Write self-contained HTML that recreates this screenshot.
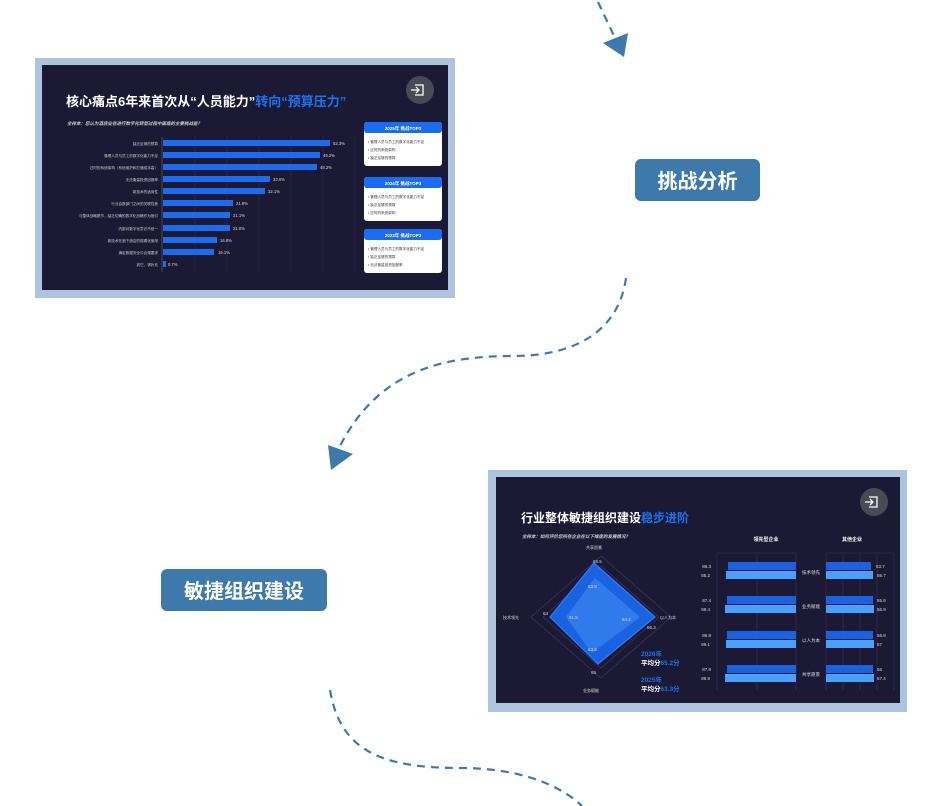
<!DOCTYPE html>
<html><head><meta charset="utf-8"><style>
html,body{margin:0;padding:0;background:#fff;width:940px;height:806px;overflow:hidden}
svg{display:block}
text{font-family:"Liberation Sans","Noto Sans CJK SC",sans-serif}
</style></head><body>
<svg width="940" height="806" viewBox="0 0 940 806" xmlns="http://www.w3.org/2000/svg">
<g fill="none" stroke="#3d7aab" stroke-width="2.2" stroke-dasharray="8,6">
<path d="M598,2 L616,40"/>
<path d="M626,278 C618,335 570,356 513,356 C440,356 378,372 340,446"/>
<path d="M330,690 C340,750 380,768 460,768 C520,768 560,785 582,806"/>
</g>
<polygon points="603,43 628,33 624,57" fill="#3d7aab"/>
<polygon points="328,445 353,454 331,470" fill="#3d7aab"/>

<rect x="635" y="159" width="125" height="42" rx="6" fill="#3d7aab"/>
<text x="697.5" y="188" fill="#fff" font-size="20" font-weight="bold" text-anchor="middle">挑战分析</text>
<rect x="161" y="569" width="166" height="42" rx="6" fill="#3d7aab"/>
<text x="244" y="598" fill="#fff" font-size="20" font-weight="bold" text-anchor="middle">敏捷组织建设</text>

<!-- Image 1 -->
<rect x="35" y="58" width="420" height="240" fill="#adc3de"/>
<rect x="42" y="65" width="406" height="225" fill="#1c1935"/>
<text x="66" y="106" fill="#fff" font-size="13" font-weight="bold">核心痛点6年来首次从“人员能力”<tspan fill="#1a74f0">转向“预算压力”</tspan></text>
<text x="67" y="125" fill="#ccc" font-size="4.5" font-style="italic" font-weight="bold">全样本：您认为酒店业在进行数字化转型过程中面临的主要挑战是？</text>
<circle cx="420" cy="90" r="14" fill="#4a4a55"/>
<path d="M415,85 h8 v10 h-8 M411,90 h7 M416,87 l3,3 -3,3" stroke="#fff" stroke-width="1.3" fill="none"/>
<g stroke="#2d2a48" stroke-width="0.6">
<line x1="195" y1="137" x2="195" y2="272"/><line x1="227" y1="137" x2="227" y2="272"/><line x1="259" y1="137" x2="259" y2="272"/><line x1="291" y1="137" x2="291" y2="272"/><line x1="323" y1="137" x2="323" y2="272"/><line x1="355" y1="137" x2="355" y2="272"/>
</g>
<line x1="162" y1="137" x2="162" y2="272" stroke="#666" stroke-width="0.6"/>
<g fill="#1a6cf0">
<rect x="163" y="140" width="167" height="6"/>
<rect x="163" y="152" width="157" height="6"/>
<rect x="163" y="164" width="154" height="6"/>
<rect x="163" y="176" width="107" height="6"/>
<rect x="163" y="188" width="102" height="6"/>
<rect x="163" y="200" width="70" height="6"/>
<rect x="163" y="212" width="67" height="6"/>
<rect x="163" y="225" width="67" height="6"/>
<rect x="163" y="237" width="54" height="6"/>
<rect x="163" y="249" width="51" height="6"/>
<rect x="163" y="261" width="3" height="6"/>
</g>
<g fill="#ddd" font-size="4.2">
<text x="333" y="145">52.3%</text><text x="323" y="157">49.2%</text><text x="320" y="169">48.2%</text><text x="273" y="181">33.6%</text><text x="268" y="193">32.1%</text><text x="236" y="205">21.8%</text><text x="233" y="217">21.1%</text><text x="233" y="230">21.0%</text><text x="220" y="242">16.8%</text><text x="218" y="254">16.1%</text><text x="168" y="266">0.7%</text>
</g>
<g fill="#ccc" font-size="3.6" text-anchor="end">
<text x="158" y="145">缺乏足够的预算</text><text x="158" y="157">管理人员与员工的数字化能力不足</text><text x="158" y="169">过时的系统架构（系统维护和打通成本高）</text><text x="158" y="181">无法衡量投资回报率</text><text x="158" y="193">新技术的适用性</text><text x="158" y="205">行业会数部门之间的关联性差</text><text x="158" y="217">与整体战略脱节，缺乏切确的数字化战略作为指引</text><text x="158" y="230">内部对数字化意识不统一</text><text x="158" y="242">新技术在酒下酒店的规模化使用</text><text x="158" y="254">满足数据安全与合规要求</text><text x="158" y="266">其它，请补充</text>
</g>
<g>
<rect x="364" y="122" width="78" height="44" rx="3" fill="#fff"/><rect x="364" y="122" width="78" height="11" rx="3" fill="#1a6cf0"/>
<text x="403" y="130" fill="#fff" font-size="4.5" text-anchor="middle" font-weight="bold">2025年 挑战TOP3</text>
<text x="368" y="143" fill="#333" font-size="3.6">• 管理人员与员工的数字化能力不足</text><text x="368" y="151" fill="#333" font-size="3.6">• 过时的系统架构</text><text x="368" y="159" fill="#333" font-size="3.6">• 缺乏足够的预算</text>
<rect x="364" y="177" width="78" height="44" rx="3" fill="#fff"/><rect x="364" y="177" width="78" height="11" rx="3" fill="#1a6cf0"/>
<text x="403" y="185" fill="#fff" font-size="4.5" text-anchor="middle" font-weight="bold">2024年 挑战TOP3</text>
<text x="368" y="198" fill="#333" font-size="3.6">• 管理人员与员工的数字化能力不足</text><text x="368" y="206" fill="#333" font-size="3.6">• 缺乏足够的预算</text><text x="368" y="214" fill="#333" font-size="3.6">• 过时的系统架构</text>
<rect x="364" y="229" width="78" height="44" rx="3" fill="#fff"/><rect x="364" y="229" width="78" height="11" rx="3" fill="#1a6cf0"/>
<text x="403" y="237" fill="#fff" font-size="4.5" text-anchor="middle" font-weight="bold">2023年 挑战TOP3</text>
<text x="368" y="250" fill="#333" font-size="3.6">• 管理人员与员工的数字化能力不足</text><text x="368" y="258" fill="#333" font-size="3.6">• 缺乏足够的预算</text><text x="368" y="266" fill="#333" font-size="3.6">• 无法衡量投资回报率</text>
</g>

<!-- Image 2 -->
<rect x="488" y="470" width="419" height="242" fill="#adc3de"/>
<rect x="496" y="477" width="404" height="226" fill="#1c1935"/>
<text x="521" y="522" fill="#fff" font-size="12" font-weight="bold">行业整体敏捷组织建设<tspan fill="#1a74f0">稳步进阶</tspan></text>
<text x="522" y="538" fill="#ccc" font-size="4.5" font-style="italic" font-weight="bold">全样本：如何评价您所在企业在以下维度的发展情况？</text>
<circle cx="874" cy="502" r="14" fill="#4a4a55"/>
<path d="M869,497 h8 v10 h-8 M865,502 h7 M870,499 l3,3 -3,3" stroke="#fff" stroke-width="1.3" fill="none"/>
<g fill="none" stroke="#3a3760" stroke-width="0.7">
<polygon points="601,556 531,617 601,678 671,617"/>
<polygon points="601,566 543,617 601,668 659,617"/>
<polygon points="601,578 557,617 601,656 645,617"/>
</g>
<polygon points="594,563 550,617 598,664 655,617" fill="#1a62e0" stroke="#2a80ff" stroke-width="1.2"/>
<polygon points="595,578 566,617 592,653 640,617" fill="#3b86ef" opacity="0.7"/>
<g fill="#ddd" font-size="4.5">
<text x="593" y="563">65.5</text><text x="588" y="588">63.8</text><text x="569" y="619">61.8</text><text x="622" y="621">64.2</text><text x="647" y="629">66.3</text><text x="588" y="651">63.5</text><text x="591" y="674">65</text><text x="543" y="615">64</text>
<text x="586" y="549" font-size="4">共享愿景</text><text x="503" y="619" font-size="4">技术领先</text><text x="660" y="619" font-size="4">以人为本</text><text x="583" y="692" font-size="4">业务赋能</text>
</g>
<text x="641" y="656" fill="#1a74f0" font-size="6.5" font-weight="bold">2026年</text>
<text x="641" y="665" fill="#fff" font-size="6.5" font-weight="bold">平均分<tspan fill="#1a74f0">65.2分</tspan></text>
<text x="641" y="682" fill="#1a74f0" font-size="6.5" font-weight="bold">2025年</text>
<text x="641" y="691" fill="#fff" font-size="6.5" font-weight="bold">平均分<tspan fill="#1a74f0">63.3分</tspan></text>
<text x="766" y="541" fill="#fff" font-size="5" font-weight="bold" text-anchor="middle">领先型企业</text>
<text x="852" y="541" fill="#fff" font-size="5" font-weight="bold" text-anchor="middle">其他企业</text>
<g stroke="#34315a" stroke-width="0.6">
<line x1="717" y1="553" x2="717" y2="690"/><line x1="757" y1="553" x2="757" y2="690"/><line x1="796" y1="553" x2="796" y2="690"/><line x1="826" y1="553" x2="826" y2="690"/><line x1="843" y1="553" x2="843" y2="690"/><line x1="860" y1="553" x2="860" y2="690"/><line x1="877" y1="553" x2="877" y2="690"/><line x1="894" y1="553" x2="894" y2="690"/>
<line x1="717" y1="553" x2="796" y2="553"/><line x1="826" y1="553" x2="894" y2="553"/>
</g>
<g>
<rect x="728" y="562" width="68" height="8" fill="#1a62e0"/><rect x="726" y="571" width="70" height="8" fill="#4aa0ff"/>
<rect x="727" y="596" width="69" height="8" fill="#1a62e0"/><rect x="725" y="605" width="71" height="8" fill="#4aa0ff"/>
<rect x="727" y="631" width="69" height="8" fill="#1a62e0"/><rect x="726" y="640" width="70" height="8" fill="#4aa0ff"/>
<rect x="727" y="665" width="69" height="8" fill="#1a62e0"/><rect x="725" y="674" width="71" height="8" fill="#4aa0ff"/>
<rect x="826" y="562" width="45" height="8" fill="#1a62e0"/><rect x="826" y="571" width="47" height="8" fill="#4aa0ff"/>
<rect x="826" y="596" width="47" height="8" fill="#1a62e0"/><rect x="826" y="605" width="48" height="8" fill="#4aa0ff"/>
<rect x="826" y="631" width="47" height="8" fill="#1a62e0"/><rect x="826" y="640" width="48" height="8" fill="#4aa0ff"/>
<rect x="826" y="665" width="47" height="8" fill="#1a62e0"/><rect x="826" y="674" width="48" height="8" fill="#4aa0ff"/>
</g>
<g fill="#ddd" font-size="4.5">
<text x="711" y="568" text-anchor="end">86.3</text><text x="710" y="577" text-anchor="end">85.2</text>
<text x="711" y="602" text-anchor="end">87.4</text><text x="710" y="611" text-anchor="end">88.4</text>
<text x="711" y="637" text-anchor="end">86.8</text><text x="710" y="646" text-anchor="end">89.1</text>
<text x="711" y="671" text-anchor="end">87.8</text><text x="710" y="680" text-anchor="end">89.9</text>
<text x="876" y="568">53.7</text><text x="877" y="577">55.7</text>
<text x="877" y="602">55.6</text><text x="877" y="611">56.9</text>
<text x="877" y="637">56.8</text><text x="877" y="646">57</text>
<text x="877" y="671">56</text><text x="877" y="680">57.4</text>
<text x="811" y="574" text-anchor="middle">技术领先</text><text x="811" y="608" text-anchor="middle">业务赋能</text><text x="811" y="642" text-anchor="middle">以人为本</text><text x="811" y="676" text-anchor="middle">共享愿景</text>
</g>
</svg>
</body></html>
